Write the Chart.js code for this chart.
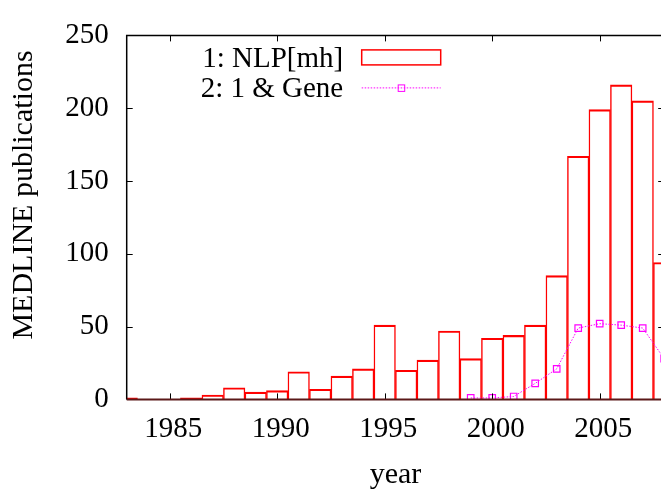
<!DOCTYPE html>
<html><head><meta charset="utf-8">
<script src="https://cdn.jsdelivr.net/npm/chart.js@4/dist/chart.umd.min.js"></script>
<style>
html,body{margin:0;padding:0;background:#fff;overflow:hidden;width:661px;height:490px}
#wrap{width:700px;height:490px}
</style></head>
<body><div id="wrap"><canvas id="c" width="700" height="490"></canvas></div>
<script>
// ---- data ----
const years = [1983,1984,1985,1986,1987,1988,1989,1990,1991,1992,1993,1994,1995,1996,1997,1998,1999,2000,2001,2002,2003,2004,2005,2006,2007,2008];
const nlpCounts = [1,0,0,1,3,8,5,6,19,7,16,21,51,20,27,47,28,42,44,51,85,167,199,216,205,94];
const geneYears = [1999,2000,2001,2002,2003,2004,2005,2006,2007,2008];
const geneCounts = [1,1,2,11,21,49,52,51,49,28];
const xTickValues = [1985,1990,1995,2000,2005];
const yTickValues = [0,50,100,150,200,250];
const seriesLabels = ['1: NLP[mh]','2: 1 & Gene'];
const xTitle = 'year';
const yTitle = 'MEDLINE publications';

const FAMILY = "'Liberation Serif','Times New Roman',serif";
const FONT = "29px " + FAMILY;
const TITLE_FONT = "30px " + FAMILY;
const RED = '#ff0000', MAG = '#ff00ff';
const DASH = [1.5, 1.5];

const framePlugin = {
  id: 'frame',
  afterDatasetsDraw(chart) {
    const {ctx, chartArea: a, scales: {x, y}} = chart;
    ctx.save();
    // inward ticks on all four sides
    const tl = 6;
    ctx.strokeStyle = '#000'; ctx.lineWidth = 1;
    ctx.beginPath();
    xTickValues.forEach(v => {
      const px = Math.round(x.getPixelForValue(v)) + 0.5;
      ctx.moveTo(px, a.bottom); ctx.lineTo(px, a.bottom - tl);
      ctx.moveTo(px, a.top); ctx.lineTo(px, a.top + tl);
    });
    yTickValues.forEach(v => {
      const py = Math.round(y.getPixelForValue(v)) + 0.5;
      ctx.moveTo(a.left, py); ctx.lineTo(a.left + tl, py);
      ctx.moveTo(a.right, py); ctx.lineTo(a.right - tl, py);
    });
    ctx.stroke();
    // border
    ctx.lineWidth = 1.5;
    ctx.strokeStyle = '#000';
    ctx.beginPath();
    ctx.moveTo(a.left, a.bottom); ctx.lineTo(a.left, a.top); ctx.lineTo(a.right, a.top); ctx.lineTo(a.right, a.bottom);
    ctx.stroke();
    ctx.strokeStyle = '#5a1818'; ctx.lineWidth = 2;
    ctx.beginPath(); ctx.moveTo(a.left, a.bottom); ctx.lineTo(a.right, a.bottom); ctx.stroke();

    // legend
    ctx.font = FONT; ctx.fillStyle = '#000';
    ctx.textAlign = 'right'; ctx.textBaseline = 'alphabetic';
    const tx = a.left + 216.5;
    const row1 = a.top + 22, row2 = a.top + 52;
    ctx.fillText(seriesLabels[0], tx, a.top + 32);
    ctx.fillText(seriesLabels[1], tx, a.top + 61.5);
    const kx0 = a.left + 235, kx1 = a.left + 314;
    ctx.strokeStyle = RED; ctx.lineWidth = 1.5;
    ctx.strokeRect(kx0, row1 - 7.5, kx1 - kx0, 15);
    ctx.strokeStyle = MAG; ctx.lineWidth = 1; ctx.setLineDash(DASH);
    ctx.beginPath(); ctx.moveTo(kx0, row2 + 0.5); ctx.lineTo(kx1, row2 + 0.5); ctx.stroke();
    ctx.setLineDash([]);
    const mx = (kx0 + kx1) / 2;
    ctx.strokeRect(mx - 3, row2 - 2.5, 6.5, 6.5);

    // axis titles
    ctx.font = TITLE_FONT;
    ctx.fillStyle = '#000';
    ctx.textAlign = 'center'; ctx.textBaseline = 'alphabetic';
    ctx.fillText(xTitle, (a.left + a.right) / 2, 483);
    ctx.save();
    ctx.translate(32, 195);
    ctx.rotate(-Math.PI / 2);
    ctx.fillText(yTitle, 0, 0);
    ctx.restore();
    ctx.restore();
  }
};

new Chart(document.getElementById('c'), {
  type: 'bar',
  data: {
    datasets: [
      {
        type: 'bar',
        label: seriesLabels[0],
        data: years.map((yr, i) => ({x: yr, y: nlpCounts[i]})),
        backgroundColor: 'rgba(255,255,255,0)',
        borderColor: RED,
        borderWidth: {top: 1.5, left: 0.8, right: 0.8, bottom: 0},
        barPercentage: 1, categoryPercentage: 1,
        clip: 0,
        order: 2
      },
      {
        type: 'line',
        label: seriesLabels[1],
        data: geneYears.map((yr, i) => ({x: yr, y: geneCounts[i]})),
        borderColor: MAG,
        borderWidth: 1,
        borderDash: DASH,
        pointStyle: 'rect',
        pointRadius: 4.6,
        pointBorderWidth: 1.2,
        pointBorderColor: MAG,
        pointBackgroundColor: 'rgba(255,255,255,0)',
        tension: 0,
        fill: false,
        order: 1
      }
    ]
  },
  options: {
    responsive: false,
    animation: false,
    devicePixelRatio: 1,
    layout: {padding: {left: 0, top: 19.3, right: 700 - 664.2, bottom: 0}},
    plugins: {legend: {display: false}, tooltip: {enabled: false}, title: {display: false}},
    scales: {
      x: {
        type: 'linear', min: 1983, max: 2008, offset: false,
        grid: {display: false, drawTicks: false},
        border: {display: false},
        afterBuildTicks: s => { s.ticks = xTickValues.map(v => ({value: v})); },
        afterFit: s => { s.height = 490 - 399.4; },
        ticks: {font: {family: FAMILY, size: 29}, color: '#000', padding: 13, labelOffset: 3.5, maxRotation: 0, autoSkip: false,
                callback: v => String(v)}
      },
      y: {
        type: 'linear', min: 0, max: 250,
        grid: {display: false, drawTicks: false},
        border: {display: false},
        afterBuildTicks: s => { s.ticks = yTickValues.map(v => ({value: v})); },
        afterFit: s => { s.width = 126.7; },
        ticks: {font: {family: FAMILY, size: 29}, color: '#000', padding: 18, autoSkip: false}
      }
    }
  },
  plugins: [framePlugin]
});
</script>
</body></html>
